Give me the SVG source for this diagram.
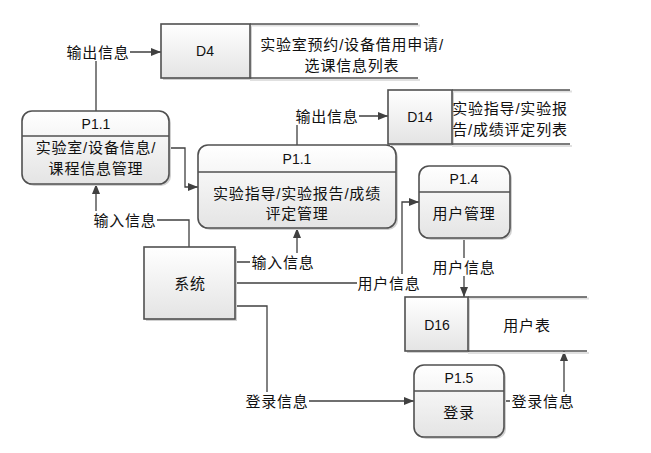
<svg xmlns="http://www.w3.org/2000/svg" width="651" height="453" viewBox="0 0 651 453">
<defs>
<linearGradient id="g" x1="0" y1="0" x2="0" y2="1">
<stop offset="0" stop-color="#ffffff"/>
<stop offset="1" stop-color="#e4e4e4"/>
</linearGradient>
<marker id="arr" markerWidth="10" markerHeight="8" refX="10" refY="4" orient="auto" markerUnits="userSpaceOnUse">
<path d="M0,0 L10,4 L0,8 Z" fill="#404040"/>
</marker>
<style>
.box{fill:url(#g);stroke:#505050;stroke-width:1.6}
.sh{fill:#d0d0d0;stroke:none}
.ln{fill:none;stroke:#505050;stroke-width:1.6}
.c{fill:none;stroke:#404040;stroke-width:1.3}
.t{font-family:"Liberation Sans","Noto Sans CJK SC",sans-serif;font-size:15px;fill:#111;text-anchor:middle;dominant-baseline:central;letter-spacing:0.8px}
.id{font-family:"Liberation Sans","Noto Sans CJK SC",sans-serif;font-size:14px;fill:#111;text-anchor:middle;dominant-baseline:central}
.bg{fill:#fff}
</style>
</defs>
<rect width="651" height="453" fill="#fff"/>

<g id="connectors">
<polyline class="c" points="96,111 96,52 161,52" marker-end="url(#arr)"/>
<polyline class="c" points="169,148 185,148 185,187 198,187" marker-end="url(#arr)"/>
<polyline class="c" points="297,145 297,116 388,116" marker-end="url(#arr)"/>
<polyline class="c" points="464,238 464,297" marker-end="url(#arr)"/>
<polyline class="c" points="189,247 189,220 96,220 96,184" marker-end="url(#arr)"/>
<polyline class="c" points="235,262 297,262 297,228" marker-end="url(#arr)"/>
<polyline class="c" points="235,283 402,283 402,202 419,202" marker-end="url(#arr)"/>
<polyline class="c" points="235,306 267,306 267,401 414,401" marker-end="url(#arr)"/>
<polyline class="c" points="504,401 564,401 564,351" marker-end="url(#arr)"/>
<rect class="bg" x="66" y="43" width="64" height="18"/>
<text class="t" x="98" y="52">输出信息</text>
<rect class="bg" x="296" y="107" width="63" height="18"/>
<text class="t" x="327" y="116">输出信息</text>
<rect class="bg" x="432" y="258" width="64" height="18"/>
<text class="t" x="464" y="267">用户信息</text>
<rect class="bg" x="93" y="211" width="64" height="18"/>
<text class="t" x="125" y="220">输入信息</text>
<rect class="bg" x="250" y="253" width="65" height="18"/>
<text class="t" x="283" y="262">输入信息</text>
<rect class="bg" x="357" y="274" width="64" height="18"/>
<text class="t" x="389" y="283">用户信息</text>
<rect class="bg" x="245" y="392" width="64" height="18"/>
<text class="t" x="277" y="401">登录信息</text>
<rect class="bg" x="510" y="392" width="66" height="18"/>
<text class="t" x="543" y="401">登录信息</text>
</g>

<g id="d4">
<rect class="sh" x="163" y="26" width="89" height="54"/>
<line x1="250" y1="25.5" x2="420" y2="25.5" stroke="#e0e0e0" stroke-width="2"/>
<line x1="250" y1="80" x2="420" y2="80" stroke="#e0e0e0" stroke-width="2"/>
<rect class="box" x="161" y="24" width="89" height="54"/>
<line class="ln" x1="250" y1="24" x2="418" y2="24"/>
<line class="ln" x1="250" y1="78" x2="418" y2="78"/>
<text class="id" x="205" y="51">D4</text>
<text class="t" x="352" y="44">实验室预约/设备借用申请/</text>
<text class="t" x="352" y="65">选课信息列表</text>
</g>

<g id="p11a">
<rect class="sh" x="24" y="113" width="147" height="73" rx="10"/>
<rect class="box" x="22" y="111" width="147" height="73" rx="10"/>
<line class="ln" x1="22" y1="136" x2="169" y2="136"/>
<text class="id" x="96" y="124">P1.1</text>
<text class="t" x="96" y="147">实验室/设备信息/</text>
<text class="t" x="96" y="168">课程信息管理</text>
</g>

<g id="p11b">
<rect class="sh" x="200" y="147" width="198" height="83" rx="10"/>
<rect class="box" x="198" y="145" width="198" height="83" rx="10"/>
<line class="ln" x1="198" y1="172" x2="396" y2="172"/>
<text class="id" x="297" y="159">P1.1</text>
<text class="t" x="297" y="193">实验指导/实验报告/成绩</text>
<text class="t" x="297" y="213">评定管理</text>
</g>

<g id="d14">
<rect class="sh" x="390" y="92" width="64" height="54"/>
<line x1="452" y1="91.5" x2="572" y2="91.5" stroke="#e0e0e0" stroke-width="2"/>
<line x1="452" y1="146" x2="572" y2="146" stroke="#e0e0e0" stroke-width="2"/>
<rect class="box" x="388" y="90" width="64" height="54"/>
<line class="ln" x1="452" y1="90" x2="570" y2="90"/>
<line class="ln" x1="452" y1="144" x2="570" y2="144"/>
<text class="id" x="420" y="117">D14</text>
<text class="t" x="510" y="108">实验指导/实验报</text>
<text class="t" x="510" y="129">告/成绩评定列表</text>
</g>

<g id="p14">
<rect class="sh" x="421" y="168" width="91" height="72" rx="10"/>
<rect class="box" x="419" y="166" width="91" height="72" rx="10"/>
<line class="ln" x1="419" y1="192" x2="510" y2="192"/>
<text class="id" x="464" y="179">P1.4</text>
<text class="t" x="464" y="213">用户管理</text>
</g>

<g id="d16">
<rect class="sh" x="407" y="299" width="63" height="54"/>
<line x1="468" y1="298.5" x2="589" y2="298.5" stroke="#e0e0e0" stroke-width="2"/>
<line x1="468" y1="353" x2="589" y2="353" stroke="#e0e0e0" stroke-width="2"/>
<rect class="box" x="405" y="297" width="63" height="54"/>
<line class="ln" x1="468" y1="297" x2="587" y2="297"/>
<line class="ln" x1="468" y1="351" x2="587" y2="351"/>
<text class="id" x="437" y="325">D16</text>
<text class="t" x="527" y="325">用户表</text>
</g>

<g id="p15">
<rect class="sh" x="416" y="367" width="90" height="72" rx="10"/>
<rect class="box" x="414" y="365" width="90" height="72" rx="10"/>
<line class="ln" x1="414" y1="391" x2="504" y2="391"/>
<text class="id" x="459" y="378">P1.5</text>
<text class="t" x="459" y="412">登录</text>
</g>

<g id="system">
<rect class="sh" x="146" y="249" width="91" height="72"/>
<rect class="box" x="144" y="247" width="91" height="72"/>
<text class="t" x="190" y="283">系统</text>
</g>
</svg>
